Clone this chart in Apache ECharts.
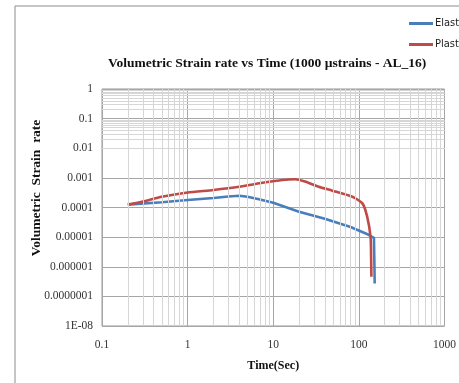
<!DOCTYPE html>
<html><head><meta charset="utf-8">
<script src="https://cdn.jsdelivr.net/npm/echarts@6/dist/echarts.min.js"></script>
<style>html,body{margin:0;padding:0;background:#fff}#c{width:459px;height:383px}</style>
</head><body><div id="c"></div>
<script>
const xTickLabels = ['0.1', '1', '10', '100', '1000'];
const yTickLabels = ['1', '0.1', '0.01', '0.001', '0.0001', '0.00001', '0.000001', '0.0000001', '1E-08'];

const elasticTime  = [0.2, 0.5, 1, 2, 3, 4, 5, 7, 10, 20, 40, 80, 130, 150, 152, 153];
const elasticRate  = [1.25e-4, 1.5e-4, 1.8e-4, 2.1e-4, 2.35e-4, 2.5e-4, 2.3e-4, 1.85e-4, 1.45e-4, 7.2e-5, 4.2e-5, 2.2e-5, 1.2e-5, 9.5e-6, 1e-6, 2.7e-7];

const plasticTime  = [0.2, 0.3, 0.5, 1, 2, 4, 7.5, 12.8, 18, 24, 34, 49, 84, 110, 125, 137, 139, 140];
const plasticRate  = [1.25e-4, 1.6e-4, 2.3e-4, 3.2e-4, 3.9e-4, 5e-4, 6.8e-4, 8.5e-4, 9e-4, 7.4e-4, 5e-4, 3.7e-4, 2.3e-4, 1.38e-4, 4.9e-5, 1e-5, 2e-6, 4.6e-7];

const minorX = [], minorY = [];
for (let e = -1; e < 3; e++) for (let m = 2; m <= 9; m++) minorX.push({xAxis: m * Math.pow(10, e)});
for (let e = -8; e < 0; e++) for (let m = 2; m <= 9; m++) minorY.push({yAxis: m * Math.pow(10, e)});

const serif = '"Liberation Serif", "DejaVu Serif", serif';
const chart = echarts.init(document.getElementById('c'));
chart.setOption({
  animation: false,
  backgroundColor: '#fff',
  title: {
    text: 'Volumetric Strain rate vs Time (1000 \u00b5strains - AL_16)',
    left: 103, top: 52,
    textStyle: {fontFamily: serif, fontWeight: 'bold', fontSize: 13.5, color: '#111'}
  },
  legend: {
    orient: 'vertical', left: 404, top: 13, itemWidth: 24, itemHeight: 3, itemGap: 10, icon: 'rect',
    textStyle: {fontFamily: '"Liberation Sans Narrow", "DejaVu Sans Condensed", sans-serif', fontSize: 11, color: '#222', padding: [0, 0, 0, -3]},
    data: ['Elastic', 'Plastic']
  },
  grid: {left: 102, right: 12, top: 89, bottom: 57, show: true, borderColor: '#999', borderWidth: 1},
  xAxis: {
    type: 'log', logBase: 10, min: 0.1, max: 1000,
    name: 'Time(Sec)', nameLocation: 'middle', nameGap: 34,
    nameTextStyle: {fontFamily: serif, fontWeight: 'bold', fontSize: 12, color: '#111'},
    axisLine: {show: false}, axisTick: {show: false},
    axisLabel: {margin: 13, fontFamily: serif, fontSize: 11.5, color: '#333',
      formatter: v => xTickLabels[Math.round(Math.log10(v)) + 1]},
    splitLine: {show: true, lineStyle: {color: '#a6a6a6', width: 1}}
  },
  yAxis: {
    type: 'log', logBase: 10, min: 1e-8, max: 1,
    axisLine: {show: false}, axisTick: {show: false},
    axisLabel: {margin: 9, fontFamily: serif, fontSize: 11.5, color: '#333',
      formatter: v => yTickLabels[-Math.round(Math.log10(v))]},
    splitLine: {show: true, lineStyle: {color: '#a6a6a6', width: 1}}
  },
  graphic: [
    {type: 'polyline', shape: {points: [[15, 400], [15, 6], [470, 6]]}, style: {stroke: '#8c8c8c', lineWidth: 1, fill: null}, silent: true},
    {type: 'text', x: 37, y: 188, rotation: Math.PI / 2, silent: true,
     style: {text: 'Volumetric  Strain  rate', fontFamily: serif, fontWeight: 'bold', fontSize: 13.5, fill: '#111', align: 'center', verticalAlign: 'middle'}}
  ],
  series: [
    {type: 'line', name: 'minorGrid', silent: true, data: [], z: 1,
     markLine: {silent: true, symbol: 'none', label: {show: false},
       lineStyle: {color: '#d6d6d6', width: 1, type: 'solid'},
       data: minorX.concat(minorY)}},
    {type: 'line', name: 'Elastic', showSymbol: false, symbol: 'none', z: 3,
     lineStyle: {color: '#4a7ebb', width: 2.6}, itemStyle: {color: '#4a7ebb'},
     data: elasticTime.map((t, i) => [t, elasticRate[i]])},
    {type: 'line', name: 'Plastic', showSymbol: false, symbol: 'none', z: 4, smooth: 0.2,
     lineStyle: {color: '#be4b48', width: 2.6}, itemStyle: {color: '#be4b48'},
     data: plasticTime.map((t, i) => [t, plasticRate[i]])}
  ]
});
</script></body></html>
